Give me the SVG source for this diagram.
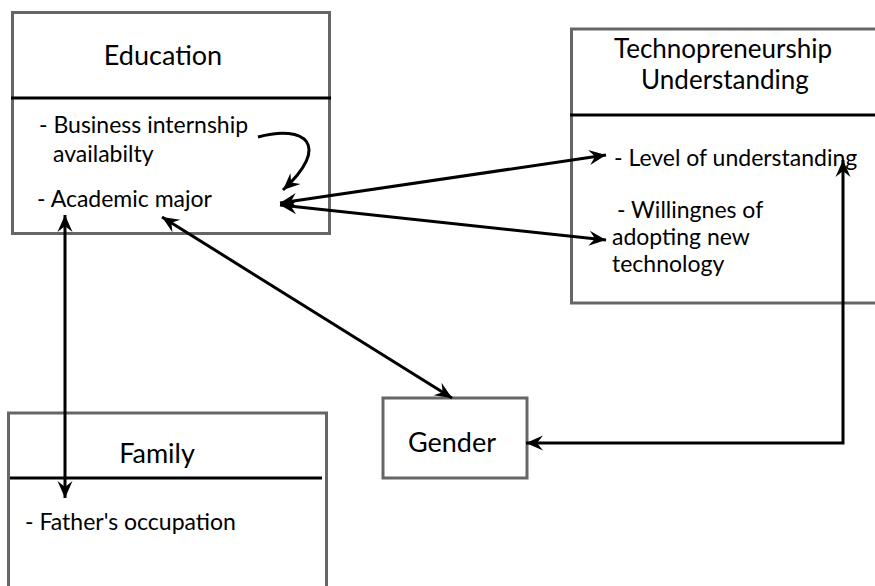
<svg xmlns="http://www.w3.org/2000/svg" width="875" height="586" viewBox="0 0 875 586">
  <defs>
    <marker id="ah" markerUnits="userSpaceOnUse" viewBox="-18 -8 20 16" refX="0" refY="0" markerWidth="20" markerHeight="16" orient="auto-start-reverse">
      <path d="M0,0 L-17,-7.5 L-11,0 L-17,7.5 Z" fill="#000"/>
    </marker>
  </defs>
  <style>
    .box { fill: #fff; stroke: #666; stroke-width: 3; }
    .div { stroke: #000; stroke-width: 3; }
    .title { font-family: Lato, "Open Sans", sans-serif; font-size: 27px; fill: #000; text-anchor: middle; }
    .t2 { font-size: 26px; }
    .item { font-family: Lato, "Open Sans", sans-serif; font-size: 23px; fill: #000; }
    .conn { fill: none; stroke: #000; stroke-width: 3; marker-end: url(#ah); }
    .both { marker-start: url(#ah); }
  </style>
  <rect width="875" height="586" fill="#fff"/>

  <g id="education">
    <rect class="box" x="12.5" y="12.5" width="317" height="221"/>
    <line class="div" x1="11" y1="98" x2="331" y2="98"/>
    <text class="title" x="163" y="65">Education</text>
    <text class="item" x="39" y="133">- Business internship</text>
    <text class="item" x="53" y="162">availabilty</text>
    <text class="item" x="37" y="207">- Academic major</text>
  </g>

  <g id="technopreneurship">
    <rect class="box" x="571.5" y="29" width="320" height="274"/>
    <line class="div" x1="570" y1="115" x2="876" y2="115"/>
    <text class="title t2" x="723" y="58">Technopreneurship</text>
    <text class="title t2" x="725" y="89">Understanding</text>
    <text class="item" x="614" y="166">- Level of understanding</text>
    <text class="item" x="617" y="218">- Willingnes of</text>
    <text class="item" x="612" y="245">adopting new</text>
    <text class="item" x="612" y="272">technology</text>
  </g>

  <g id="family">
    <rect class="box" x="8.5" y="413" width="318" height="200"/>
    <line class="div" x1="10" y1="478" x2="322" y2="478"/>
    <text class="title" x="157" y="463">Family</text>
    <text class="item" x="25" y="530">- Father's occupation</text>
  </g>

  <g id="gender">
    <rect class="box" x="383" y="398" width="144" height="80"/>
    <text class="title" x="452" y="452">Gender</text>
  </g>

  <g id="connectors">
    <path class="conn" d="M258,137 C305,124 332,145 283,190"/>
    <path class="conn both" d="M280,203 L606,155"/>
    <path class="conn both" d="M280,205 L606,240"/>
    <path class="conn both" d="M162,217 L452,398"/>
    <path class="conn both" d="M65,215 L65,498"/>
    <path class="conn both" d="M843,160 L843,443 L526,443"/>
  </g>
</svg>
